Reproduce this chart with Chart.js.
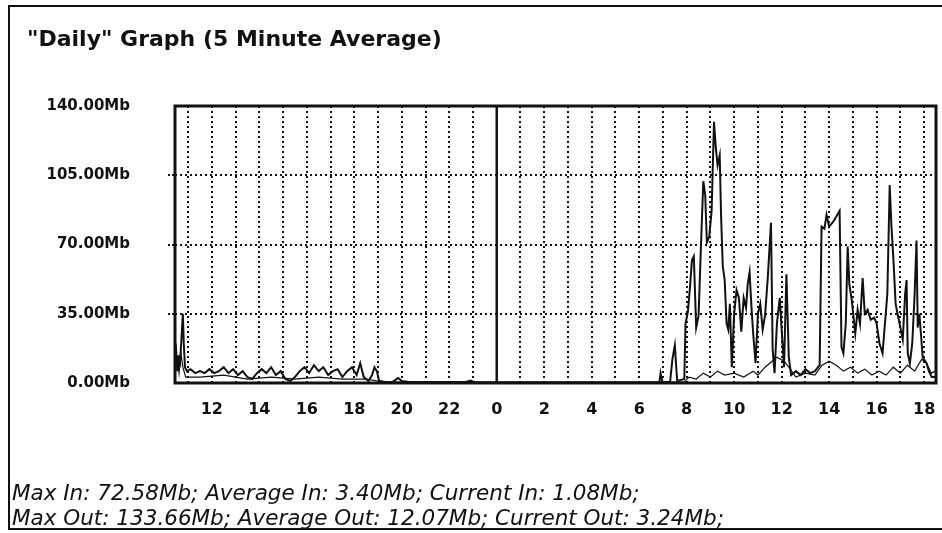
<!DOCTYPE html>
<html>
<head>
<meta charset="utf-8">
<script src="https://cdn.jsdelivr.net/npm/chart.js@4.4.1/dist/chart.umd.min.js"></script>
<style>
	body{ margin:0; background:#fff; }
	#page{ position:relative; width:942px; height:533px; overflow:hidden; background:#fff; }
	#frame{ position:absolute; left:8px; top:5px; width:950px; height:521px; border:2px solid #111; border-right:none; }
	#chart{ position:absolute; left:0; top:0; }
	#title{ position:absolute; left:27px; top:28px; font:bold 22px "DejaVu Sans", sans-serif; line-height:22px; color:#111; white-space:nowrap; }
	#stats{ position:absolute; left:12px; top:480px; font:italic 21.5px "DejaVu Sans", sans-serif; line-height:25px; color:#111; white-space:nowrap; }
</style>
</head>
<body>
<div id="page">
	<div id="frame"></div>
	<canvas id="chart" width="942" height="533"></canvas>
	<div id="title">"Daily" Graph (5 Minute Average)</div>
	<div id="stats"></div>
</div>
<script>
//Ore (24 = mezzanotte) e valori in Mb.
const outHours = [
	10.45, 10.5, 10.55, 10.6, 10.65, 10.72, 10.78, 10.82, 10.87, 10.95,
	11.1, 11.3, 11.5, 11.7, 11.9, 12.1, 12.3, 12.5, 12.7, 12.9,
	13.1, 13.3, 13.5, 13.7, 13.9, 14.1, 14.3, 14.5, 14.7, 14.9,
	15.1, 15.3, 15.5, 15.7, 15.9, 16.1, 16.3, 16.5, 16.7, 16.9,
	17.1, 17.3, 17.5, 17.7, 17.9, 18.1, 18.25, 18.4, 18.6, 18.75,
	18.85, 18.95, 19.05, 19.3, 19.6, 19.85, 20.0, 20.3, 22.7, 22.9,
	23.1, 30.85, 30.9, 30.98, 31.3, 31.4, 31.5, 31.6, 31.9, 31.95,
	32.05, 32.15, 32.22, 32.3, 32.4, 32.5, 32.6, 32.7, 32.78, 32.85,
	32.95, 33.05, 33.15, 33.22, 33.3, 33.39, 33.45, 33.52, 33.6, 33.68,
	33.75, 33.82, 33.9, 34.0, 34.1, 34.2, 34.3, 34.4, 34.5, 34.57,
	34.65, 34.72, 34.8, 34.9, 35.0, 35.1, 35.2, 35.3, 35.42, 35.55,
	35.62, 35.7, 35.8, 35.92, 36.0, 36.1, 36.2, 36.3, 36.4, 36.6,
	36.8, 37.0, 37.2, 37.4, 37.6, 37.68, 37.8, 37.89, 38.0, 38.2,
	38.44, 38.52, 38.6, 38.7, 38.78, 38.85, 38.95, 39.1, 39.2, 39.3,
	39.41, 39.5, 39.62, 39.75, 39.9, 40.0, 40.12, 40.25, 40.45, 40.55,
	40.62, 40.7, 40.8, 40.88, 41.0, 41.1, 41.2, 41.26, 41.31, 41.4,
	41.5, 41.6, 41.68, 41.73, 41.8, 41.94, 42.1, 42.2, 42.32, 42.5
];
const outValues = [
	12, 16, 6, 14, 8, 22, 35, 20, 8, 6,
	7, 5, 6, 5, 7, 5, 6, 8, 5, 7,
	4, 6, 3, 2, 5, 7, 5, 8, 4, 6,
	2, 1, 3, 6, 8, 5, 9, 6, 8, 4,
	6, 7, 3, 6, 8, 4, 10, 3, 1, 4,
	8, 6, 1, 0.5, 0.5, 2.5, 1, 0.5, 0.5, 1.2,
	0.3, 0.3, 5, 0.5, 0.5, 12, 19, 1, 2, 30,
	36, 50, 62, 64, 28, 34, 69, 102, 95, 71,
	74, 87, 132, 120, 110, 115, 84, 59, 52, 30,
	27, 40, 8, 35, 47, 43, 26, 43, 38, 50,
	56, 40, 25, 10, 35, 40, 27, 34, 54, 81,
	17, 5, 30, 43, 27, 8, 55, 13, 4, 6,
	4, 7, 5, 6, 9, 79, 78, 85, 79, 82,
	87, 18, 15, 30, 69, 50, 42, 25, 37, 30,
	53, 35, 37, 32, 33, 30, 20, 15, 45, 100,
	80, 64, 40, 35, 28, 22, 45, 52, 15, 10,
	20, 45, 72, 28, 35, 13, 10, 6, 3, 3
];

const inHours = [
	10.45, 10.55, 10.62, 10.7, 10.78, 10.9, 11.5, 12.5, 13.5, 14.5,
	15.5, 16.5, 17.5, 18.5, 19.0, 19.5, 31.9, 32.1, 32.4, 32.7,
	33.0, 33.3, 33.6, 34.0, 34.4, 34.8, 35.0, 35.3, 35.5, 35.8,
	36.1, 36.3, 36.6, 37.0, 37.4, 37.7, 38.0, 38.3, 38.6, 38.9,
	39.2, 39.5, 39.8, 40.1, 40.4, 40.7, 41.0, 41.3, 41.6, 41.9,
	42.1, 42.3, 42.5
];
const inValues = [
	4, 12, 5, 15, 8, 3, 3, 4, 2, 3,
	2, 3, 2, 2, 1, 0.5, 0.5, 3, 2, 5,
	3, 6, 4, 5, 3, 6, 4, 8, 10, 13,
	11, 8, 3, 5, 4, 9, 11, 9, 6, 8,
	5, 7, 4, 6, 4, 8, 5, 9, 6, 12,
	10, 5, 6
];

const yTicks = [0, 35, 70, 105, 140];
const xRange = [10.45, 42.5];
const midnight = 24;

const maxIn = "72.58", avgIn = "3.40", curIn = "1.08";
const maxOut = "133.66", avgOut = "12.07", curOut = "3.24";

document.getElementById("stats").innerHTML =
	"Max In: " + maxIn + "Mb; Average In: " + avgIn + "Mb; Current In: " + curIn + "Mb;<br>" +
	"Max Out: " + maxOut + "Mb; Average Out: " + avgOut + "Mb; Current Out: " + curOut + "Mb;";

const INK = "#111";

//Linea della mezzanotte e bordo del grafico.
const framePlugin = {
	id: "frame",
	beforeDatasetsDraw(chart){
		const {ctx, chartArea, scales} = chart;
		const x = scales.x.getPixelForValue(midnight);
		ctx.save();
		ctx.strokeStyle = INK;
		ctx.lineWidth = 2.5;
		ctx.beginPath();
		ctx.moveTo(x, chartArea.top);
		ctx.lineTo(x, chartArea.bottom);
		ctx.stroke();
		ctx.restore();
	},
	afterDatasetsDraw(chart){
		const {ctx, chartArea} = chart;
		ctx.save();
		ctx.strokeStyle = INK;
		ctx.lineWidth = 3;
		ctx.strokeRect(chartArea.left, chartArea.top, chartArea.right - chartArea.left, chartArea.bottom - chartArea.top);
		ctx.restore();
	}
};

const toPoints = (hours, values) => hours.map((h, i) => ({ x: h, y: values[i] }));

new Chart(document.getElementById("chart"), {
	type: "line",
	data: {
		datasets: [
			{
				label: "In",
				data: toPoints(inHours, inValues),
				borderColor: INK,
				borderWidth: 1.2,
				pointRadius: 0,
				tension: 0
			},
			{
				label: "Out",
				data: toPoints(outHours, outValues),
				borderColor: INK,
				borderWidth: 2,
				pointRadius: 0,
				tension: 0
			}
		]
	},
	options: {
		responsive: false,
		animation: false,
		events: [],
		layout: { padding: { left: 0, top: 106, right: 6, bottom: 0 } },
		plugins: { legend: { display: false }, tooltip: { enabled: false } },
		scales: {
			x: {
				type: "linear",
				min: xRange[0],
				max: xRange[1],
				afterFit: s => { s.height = 150; s.paddingLeft = 0; s.paddingRight = 0; },
				border: { display: false, dash: [2, 3] },
				grid: {
					drawTicks: false,
					lineWidth: 2,
					color: c => c.tick && c.tick.value === midnight ? "transparent" : INK
				},
				ticks: {
					stepSize: 1,
					autoSkip: false,
					includeBounds: false,
					maxRotation: 0,
					padding: 17,
					color: INK,
					font: { family: "DejaVu Sans", weight: "bold", size: 16 },
					callback: v => v % 2 === 0 ? String(v % 24) : ""
				}
			},
			y: {
				min: 0,
				max: 140,
				afterFit: s => { s.width = 175; },
				afterBuildTicks: s => { s.ticks = yTicks.map(v => ({ value: v })); },
				border: { display: false, dash: [2, 3] },
				grid: {
					lineWidth: 2,
					tickLength: 7,
					tickBorderDash: [2, 2],
					color: c => c.tick && (c.tick.value === 0 || c.tick.value === 140) ? "transparent" : INK
				},
				ticks: {
					padding: 38,
					color: INK,
					font: { family: "DejaVu Sans", weight: "bold", size: 15 },
					callback: v => v.toFixed(2) + "Mb"
				}
			}
		}
	},
	plugins: [framePlugin]
});
</script>
</body>
</html>
